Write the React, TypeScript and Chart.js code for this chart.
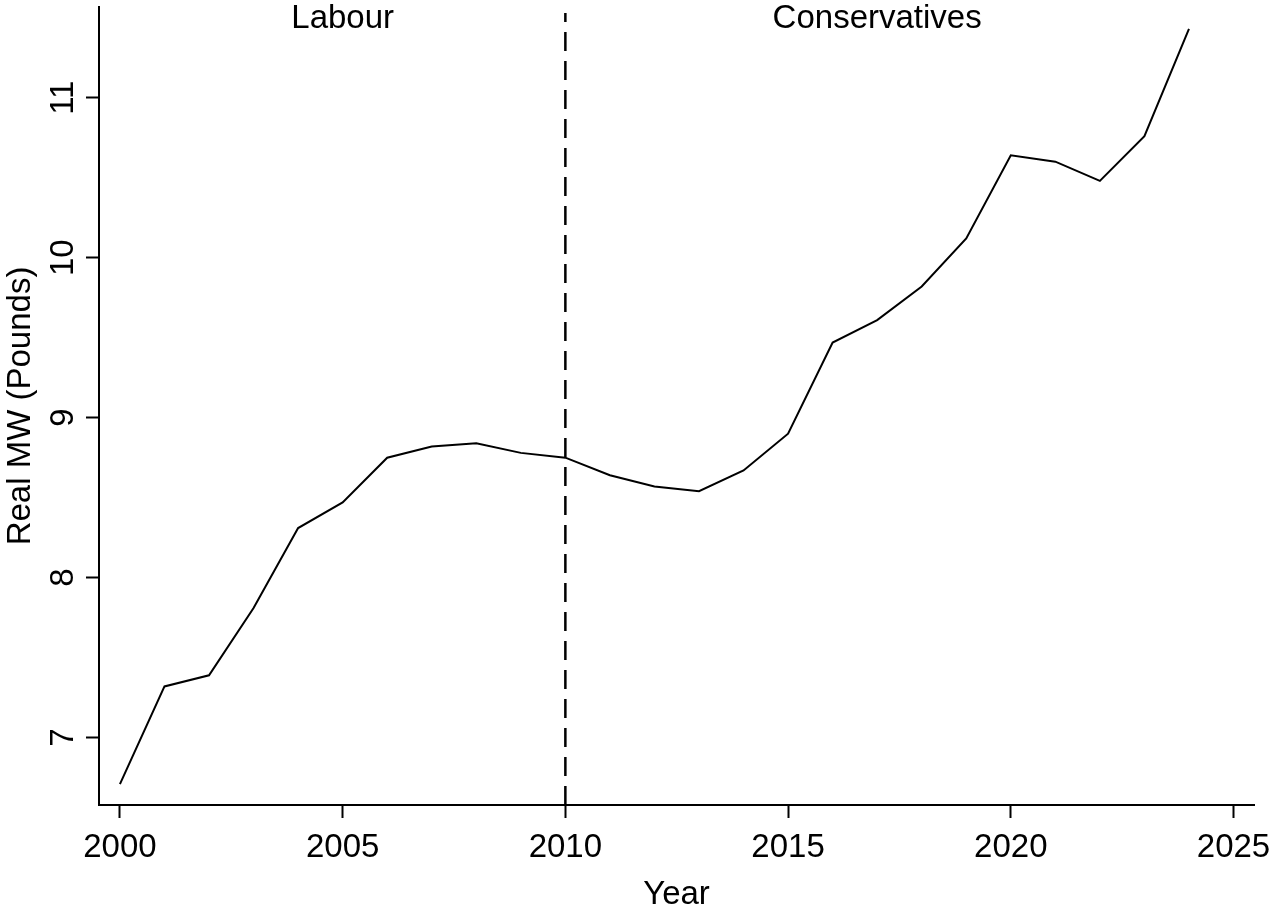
import React, { useEffect, useRef } from "react";
import { Chart, registerables } from "chart.js";

Chart.register(...registerables);

// ---- data ----
const years = [
  2000, 2001, 2002, 2003, 2004, 2005, 2006, 2007, 2008, 2009, 2010, 2011,
  2012, 2013, 2014, 2015, 2016, 2017, 2018, 2019, 2020, 2021, 2022, 2023, 2024,
];
const realMW = [
  6.71, 7.32, 7.39, 7.81, 8.31, 8.47, 8.75, 8.82, 8.84, 8.78, 8.75, 8.64,
  8.57, 8.54, 8.67, 8.9, 9.47, 9.61, 9.82, 10.12, 10.64, 10.6, 10.48, 10.76, 11.43,
];
const xTicks = [2000, 2005, 2010, 2015, 2020, 2025];
const yTicks = [7, 8, 9, 10, 11];
const partyLabels = ["Labour", "Conservatives"];
const partyLabelYears = [2005, 2017];
const changeYear = 2010;

const FONT = "'Liberation Sans', Arial, Helvetica, sans-serif";

const annotationPlugin = {
  id: "partyAnnotations",
  beforeDatasetsDraw(chart: any) {
    const { ctx, chartArea, scales } = chart;
    const xs = scales.x;
    const px = xs.getPixelForValue(changeYear);
    ctx.save();
    ctx.strokeStyle = "#000";
    ctx.lineWidth = 2.5;
    ctx.setLineDash([19, 10]);
    ctx.beginPath();
    ctx.moveTo(px, chartArea.bottom);
    ctx.lineTo(px, chartArea.top + 6);
    ctx.stroke();
    ctx.restore();
  },
  afterDatasetsDraw(chart: any) {
    const { ctx, chartArea, scales } = chart;
    const xs = scales.x;
    ctx.save();
    ctx.fillStyle = "#000";
    ctx.font = `33px ${FONT}`;
    ctx.textAlign = "center";
    ctx.textBaseline = "alphabetic";
    partyLabels.forEach((lab, i) => {
      ctx.fillText(lab, xs.getPixelForValue(partyLabelYears[i]), chartArea.top + 21);
    });
    ctx.restore();
  },
};

export default function App() {
  const canvasRef = useRef<HTMLCanvasElement | null>(null);

  useEffect(() => {
    if (!canvasRef.current) return;
    const chart = new Chart(canvasRef.current, {
      type: "line",
      data: {
        datasets: [
          {
            data: years.map((y, i) => ({ x: y, y: realMW[i] })),
            borderColor: "#000",
            borderWidth: 2,
            pointRadius: 0,
            tension: 0,
            fill: false,
          },
        ],
      },
      options: {
        responsive: false,
        animation: false,
        layout: { padding: { top: 7, right: 18, left: 0, bottom: 0 } },
        plugins: {
          legend: { display: false },
          tooltip: { enabled: false },
        },
        scales: {
          x: {
            type: "linear",
            min: 1999.53,
            max: 2025.46,
            afterBuildTicks: (s: any) => {
              s.ticks = xTicks.map((v) => ({ value: v }));
            },
            afterFit: (s: any) => {
              s.height = 108;
              s.paddingLeft = 0;
              s.paddingRight = 0;
            },
            grid: {
              drawOnChartArea: false,
              drawTicks: true,
              tickLength: 13,
              tickWidth: 2,
              tickColor: "#000",
              color: "#000",
            },
            border: { display: true, color: "#000", width: 2 },
            ticks: {
              autoSkip: false,
              maxRotation: 0,
              minRotation: 0,
              padding: 10,
              color: "#000",
              font: { family: FONT, size: 33 },
              callback: (v: any) => String(v),
            },
            title: {
              display: true,
              text: "Year",
              color: "#000",
              font: { family: FONT, size: 33, lineHeight: 1.1 },
              padding: 0,
            },
          },
          y: {
            type: "linear",
            min: 6.579,
            max: 11.567,
            afterBuildTicks: (s: any) => {
              s.ticks = yTicks.map((v) => ({ value: v }));
            },
            afterFit: (s: any) => {
              s.width = 99;
              s.paddingTop = 0;
              s.paddingBottom = 0;
            },
            grid: {
              drawOnChartArea: false,
              drawTicks: true,
              tickLength: 13,
              tickWidth: 2,
              tickColor: "#000",
              color: "#000",
            },
            border: { display: true, color: "#000", width: 2 },
            ticks: {
              minRotation: 90,
              maxRotation: 90,
              crossAlign: "center",
              padding: 4,
              color: "#000",
              font: { family: FONT, size: 33 },
              callback: (v: any) => String(v),
            },
            title: {
              display: true,
              text: "Real MW (Pounds)",
              color: "#000",
              font: { family: FONT, size: 33, lineHeight: 1.2 },
              padding: { top: 1, bottom: 0 },
            },
          },
        },
      },
      plugins: [annotationPlugin],
    } as any);
    return () => chart.destroy();
  }, []);

  return (
    <div style={{ position: "absolute", left: 0, top: 0, width: 1272, height: 913, background: "#fff" }}>
      <canvas ref={canvasRef} width={1272} height={913} />
    </div>
  );
}
